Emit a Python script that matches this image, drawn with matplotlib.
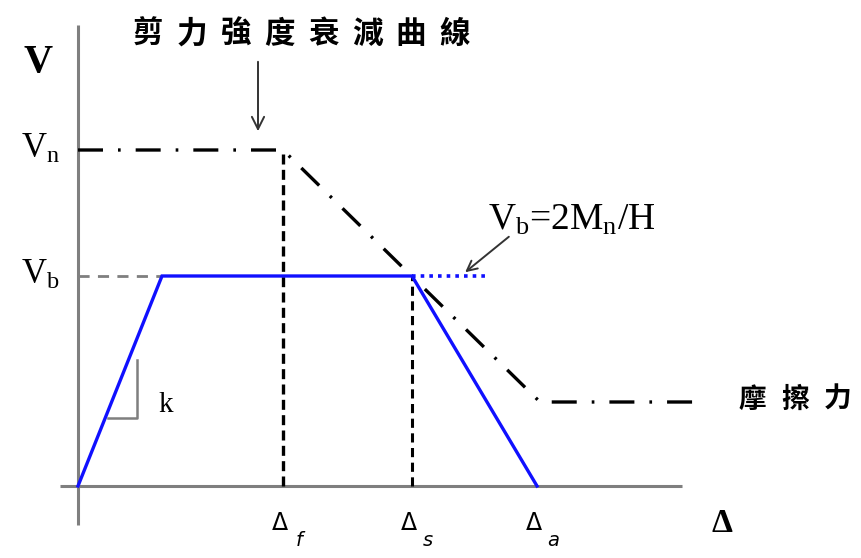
import matplotlib.pyplot as plt

plt.rcParams['mathtext.fontset'] = 'custom'
plt.rcParams['mathtext.rm'] = 'Liberation Serif'
plt.rcParams['mathtext.it'] = 'Liberation Serif:italic'

# displacement marks and shear levels (arbitrary units)
delta_y = 0.84      # end of elastic branch
delta_f = 2.05      # start of strength degradation
delta_s = 3.34      # degradation meets Vb
delta_a = 4.59      # blue curve back to zero
delta_r = 4.62      # degradation ends at friction level
delta_end = 6.22
V_n = 3.36
V_b = 2.10
V_fric = 0.84

# blue capacity curve
cap_x = [0.0, delta_y, delta_s, delta_a]
cap_y = [0.0, V_b, V_b, 0.0]
# shear strength degradation curve
deg_x = [0.0, delta_f, delta_r, delta_end]
deg_y = [V_n, V_n, V_fric, V_fric]

cjk = ['Noto Sans CJK TC', 'DejaVu Sans']
serif = 'Liberation Serif'

fig = plt.figure(figsize=(8.61, 5.58), dpi=100)
ax = fig.add_axes([0, 0, 1, 1])
ax.set_xlim(-0.78, 7.83)
ax.set_ylim(-0.72, 4.86)
ax.axis('off')

grey = '#7f7f7f'
# axes
ax.plot([0, 0], [-0.39, 4.61], color=grey, lw=2.2, solid_capstyle='butt')
ax.plot([-0.18, 6.04], [0, 0], color=grey, lw=2.2, solid_capstyle='butt')

# guide lines
ax.plot([0, delta_y], [V_b, V_b], color=grey, lw=2, ls=(0, (4, 3)))
ax.plot([delta_f, delta_f], [0, V_n], color='black', lw=2.4, ls=(0, (3, 1.6)))
ax.plot([delta_s, delta_s], [0, V_b], color='black', lw=2.2, ls=(0, (3, 1.8)))

# degradation curve
ax.plot(deg_x, deg_y, color='black', lw=2.4, ls=(0, (7.5, 4.5, 0.8, 4.5)))

# capacity curve
ax.plot(cap_x, cap_y, color='#1010ff', lw=2.4, solid_joinstyle='miter')
ax.plot([delta_s, 4.12], [V_b, V_b], color='#1010ff', lw=2.6, ls=(0, (1, 1.4)))

# stiffness triangle
ax.plot([0.30, 0.59, 0.59], [0.68, 0.68, 1.26], color=grey, lw=1.8)
ax.text(0.88, 0.81, 'k', fontsize=21, family=serif, ha='center', va='center')

# labels on the V axis
ax.text(-0.40, 4.23, 'V', fontsize=29, family=serif, weight='bold', ha='center', va='center')
ax.text(-0.57, 3.37, r'V$_{\mathrm{n}}$', fontsize=25, family=serif, ha='left', va='center')
ax.text(-0.57, 2.11, r'V$_{\mathrm{b}}$', fontsize=25, family=serif, ha='left', va='center')

# labels on the displacement axis
for xm, sub in [(delta_f, 'f'), (delta_s, 's'), (delta_a, 'a')]:
    ax.text(xm - 0.03, -0.37, 'Δ', fontsize=17, family='DejaVu Sans', ha='center', va='center')
    ax.text(xm + 0.16, -0.55, sub, fontsize=14, family='DejaVu Sans', style='italic',
            ha='center', va='center')
ax.text(6.44, -0.37, 'Δ', fontsize=24, family=serif, weight='bold', ha='center', va='center')

# title of the degradation curve
title = '剪力強度衰減曲線'
for i, ch in enumerate(title):
    ax.text(0.70 + i * 0.438, 4.52, ch, fontsize=22, family=cjk, weight='bold',
            ha='center', va='center')
ax.annotate('', xy=(1.80, 3.52), xytext=(1.80, 4.27),
            arrowprops=dict(arrowstyle='->', color='#333333', lw=1.4, mutation_scale=22))

# Vb formula
ax.text(4.10, 2.66, r'V$_{\mathrm{b}}$=2M$_{\mathrm{n}}$/H', fontsize=27, family=serif,
        ha='left', va='center')
ax.annotate('', xy=(3.85, 2.12), xytext=(4.33, 2.51),
            arrowprops=dict(arrowstyle='->', color='#333333', lw=1.4, mutation_scale=18))

# friction label
for i, ch in enumerate('摩擦力'):
    ax.text(6.74 + i * 0.43, 0.86, ch, fontsize=20, family=cjk, weight='bold',
            ha='center', va='center')

fig.savefig('out.png', dpi=100)
